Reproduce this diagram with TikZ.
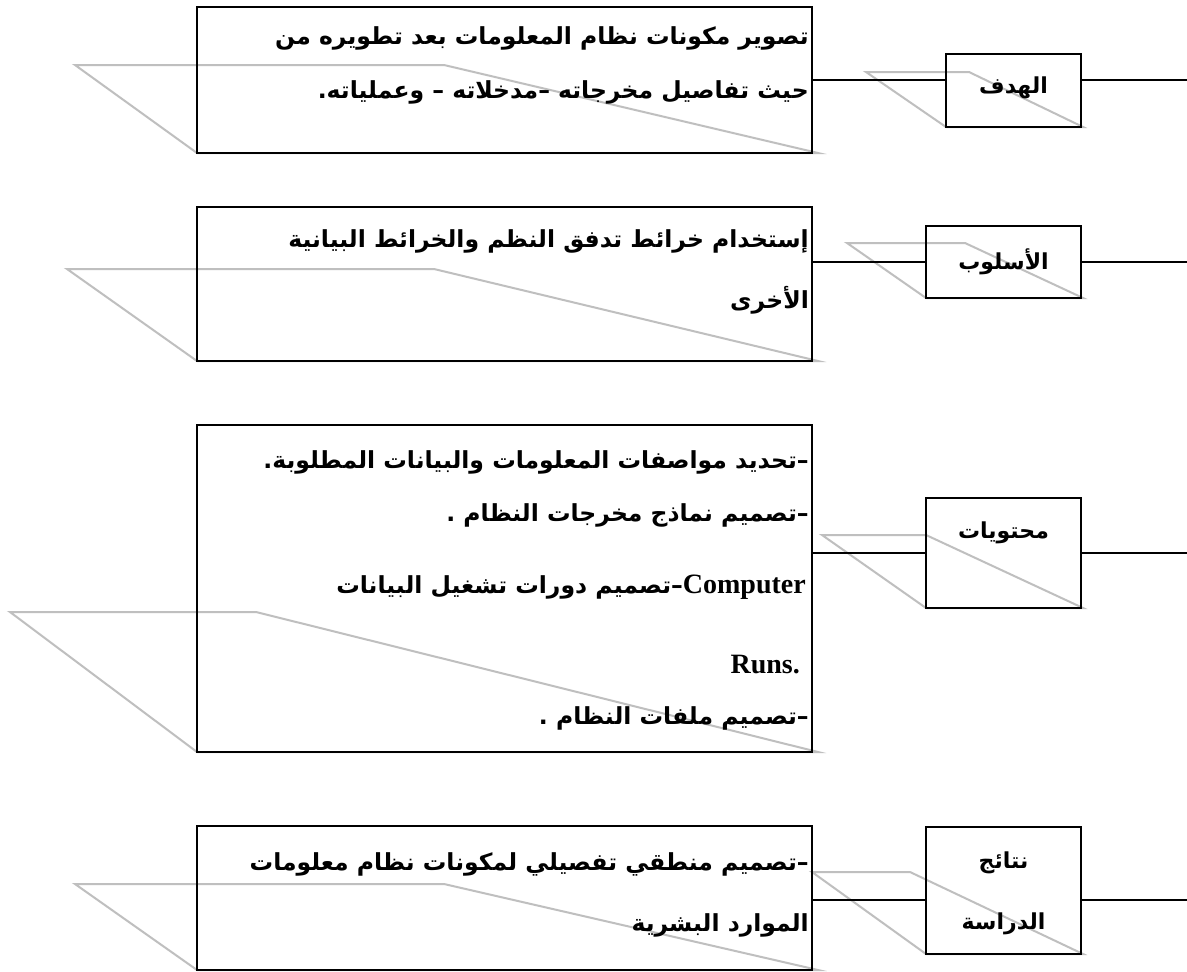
\documentclass[tikz,border=0pt]{standalone}
\usepackage{fontspec}
\TeXXeTstate=1
\newfontfamily\arabicfont[Script=Arabic]{DejaVu Sans}
\newfontfamily\romanfont{Liberation Serif}

\begin{document}
\begin{tikzpicture}[x=1pt,y=-1pt,
  frame/.style={draw=black,line width=2.8pt,inner sep=0pt},
  link/.style={draw=black,line width=2.4pt},
  shade/.style={draw=black!25,line width=2pt,line join=miter},
  artxt/.style={anchor=base east,inner sep=0pt,font=\arabicfont\bfseries\fontsize{23.5}{28}\selectfont},
  rmtxt/.style={anchor=base east,inner sep=0pt,font=\romanfont\bfseries\fontsize{28}{32}\selectfont},
  lbl/.style={inner sep=0pt,font=\arabicfont\bfseries\fontsize{22}{26}\selectfont}
]
\useasboundingbox (0,0) rectangle (1187,972);
\fill[white] (0,0) rectangle (1187,972);

% light grey slanted outlines behind each box
\draw[shade] (75,65) -- (444,65) -- (818,153) -- (197,153) -- cycle;
\draw[shade] (67,269) -- (434,269) -- (818,361) -- (197,361) -- cycle;
\draw[shade] (10,612) -- (256,612) -- (818,752) -- (197,752) -- cycle;
\draw[shade] (75,884) -- (444,884) -- (818,970) -- (197,970) -- cycle;
\draw[shade] (866,72) -- (969,72) -- (1083,127) -- (946,127) -- cycle;
\draw[shade] (847,243) -- (965,243) -- (1083,298) -- (926,298) -- cycle;
\draw[shade] (822,535) -- (926,535) -- (1083,608) -- (926,608) -- cycle;
\draw[shade] (812,872) -- (910,872) -- (1083,954) -- (926,954) -- cycle;

% description boxes
\node[frame,minimum width=615pt,minimum height=146pt] (b1) at (504.5,80) {};
\node[frame,minimum width=615pt,minimum height=154pt] (b2) at (504.5,284) {};
\node[frame,minimum width=615pt,minimum height=327pt] (b3) at (504.5,588.5) {};
\node[frame,minimum width=615pt,minimum height=144pt] (b4) at (504.5,898) {};

% heading boxes
\node[frame,minimum width=135pt,minimum height=73pt] (s1) at (1013.5,90.5) {};
\node[frame,minimum width=155pt,minimum height=72pt] (s2) at (1003.5,262) {};
\node[frame,minimum width=155pt,minimum height=110pt] (s3) at (1003.5,553) {};
\node[frame,minimum width=155pt,minimum height=127pt] (s4) at (1003.5,890.5) {};

% right-hand ends of the rows
\coordinate (r1) at (1187,80);
\coordinate (r2) at (1187,262);
\coordinate (r3) at (1187,553);
\coordinate (r4) at (1187,900);

\draw[link] (b1.east |- r1) -- (s1.west |- r1);
\draw[link] (s1.east |- r1) -- (r1);
\draw[link] (b2.east |- r2) -- (s2.west |- r2);
\draw[link] (s2.east |- r2) -- (r2);
\draw[link] (b3.east |- r3) -- (s3.west |- r3);
\draw[link] (s3.east |- r3) -- (r3);
\draw[link] (b4.east |- r4) -- (s4.west |- r4);
\draw[link] (s4.east |- r4) -- (r4);

% heading labels
\node[lbl] (h1) at (1013.5,88) {\beginR الهدف\endR};
\node[lbl] (h2) at (1003.5,262) {\beginR الأسلوب\endR};
\node[lbl] (h3) at (1003.5,533) {\beginR محتويات\endR};
\node[lbl] (h4a) at (1003.5,863) {\beginR نتائج\endR};
\node[lbl] (h4b) at (1003.5,924) {\beginR الدراسة\endR};

% box texts
\node[artxt] (t11) at (809,44) {\beginR تصوير مكونات نظام المعلومات بعد تطويره من\endR};
\node[artxt] (t12) at (809,98) {\beginR حيث تفاصيل مخرجاته –مدخلاته – وعملياته.\endR};

\node[artxt] (t21) at (809,247) {\beginR إستخدام خرائط تدفق النظم والخرائط البيانية\endR};
\node[artxt] (t22) at (809,308) {\beginR الأخرى\endR};

\node[artxt] (t31) at (809,468) {\beginR –تحديد مواصفات المعلومات والبيانات المطلوبة.\endR};
\node[artxt] (t32) at (809,521) {\beginR –تصميم نماذج مخرجات النظام .\endR};
\node[artxt] (t33) at (806,593) {\beginR\beginL{\romanfont\fontsize{28}{32}\selectfont Computer}\endL–تصميم دورات تشغيل البيانات\endR};
\node[rmtxt] (t34) at (800,673) {Runs.};
\node[artxt] (t35) at (809,724) {\beginR –تصميم ملفات النظام .\endR};

\node[artxt] (t41) at (809,870) {\beginR –تصميم منطقي تفصيلي لمكونات نظام معلومات\endR};
\node[artxt] (t42) at (809,931) {\beginR الموارد البشرية\endR};
\end{tikzpicture}
\end{document}
